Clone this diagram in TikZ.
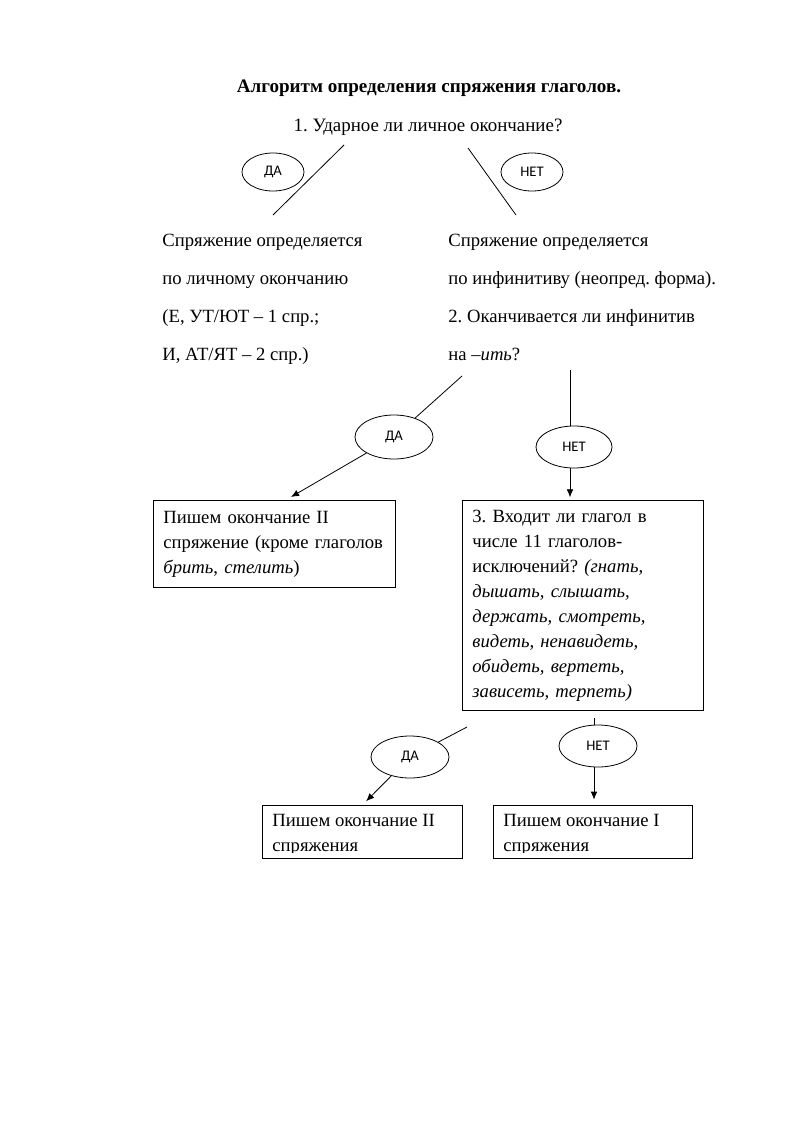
\documentclass[tikz,border=0pt]{standalone}
\usepackage{fontspec}
\setmainfont{Liberation Serif}
\newfontfamily\ovalfont{Carlito}
\usetikzlibrary{shapes.geometric, positioning, arrows.meta}
\frenchspacing

\tikzset{
  answer/.style={draw, ellipse, inner sep=0pt, font=\ovalfont\fontsize{11}{12}\selectfont},
  textblock/.style={anchor=north west, align=left, inner sep=0pt, font=\fontsize{14}{28.5}\selectfont},
  box/.style={draw, anchor=north west, align=left, inner xsep=7.5pt, font=\fontsize{14}{18.75}\selectfont},
  arrow/.style={-{Latex[length=6pt, width=5pt]}},
}

\begin{document}
\begin{tikzpicture}[x=0.75pt, y=-0.75pt, line width=0.6pt]
  \useasboundingbox (0,0) rectangle (800,1131);

  \node[font=\bfseries\fontsize{14.3}{16}\selectfont, anchor=base, inner sep=0pt] (title) at (429,93) {Алгоритм определения спряжения глаголов.};
  \node[font=\fontsize{14.2}{16}\selectfont, anchor=base, inner sep=0pt] (q1) at (428,132) {1. Ударное ли личное окончание?};

  % first question
  \node[answer, minimum width=46.5pt, minimum height=28.5pt] (yes1) at (273,172) {ДА};
  \node[answer, minimum width=46.5pt, minimum height=28.5pt] (no1) at (532,172) {НЕТ};
  \coordinate (yes1a) at (344,145);
  \coordinate (yes1b) at (273,215);
  \coordinate (no1a) at (468,148);
  \coordinate (no1b) at (516,215);
  \draw (yes1a) -- (yes1b);
  \draw (no1a) -- (no1b);

  \node[textblock] (byend) at (162,234) {Спряжение определяется\\по личному окончанию\\(Е, УТ/ЮТ -- 1 спр.;\\И, АТ/ЯТ -- 2 спр.)};
  \node[textblock] (byinf) at (448,234) {Спряжение определяется\\по инфинитиву (неопред. форма).\\2. Оканчивается ли инфинитив\\на \textit{–ить}?};

  % boxes
  \node[box, text width=166.5pt, minimum height=65.25pt] (secondA) at (153,500) {Пишем окончание II\\спряжение (кроме глаголов\\\textit{брить}, \textit{стелить})};
  \node[box, text width=165.75pt, minimum height=157.5pt] (except) at (462,500) {3. Входит ли глагол в\\числе 11 глаголов-\\исключений? \textit{(гнать,}\\\textit{дышать, слышать,}\\\textit{держать, смотреть,}\\\textit{видеть, ненавидеть,}\\\textit{обидеть, вертеть,}\\\textit{зависеть, терпеть)}};
  \node[draw, anchor=north west, minimum width=150pt, minimum height=39.75pt] (endII) at (262,805) {};
  \node[draw, anchor=north west, minimum width=149.25pt, minimum height=39.75pt] (endI) at (493,805) {};
  \begin{scope}
    \clip (262,805) rectangle (692,852);
    \node[box, draw=none, inner sep=0pt] (endIItext) at (272,814) {Пишем окончание II\\спряжения};
    \node[box, draw=none, inner sep=0pt] (endItext) at (503,814) {Пишем окончание I\\спряжения};
  \end{scope}

  % second question
  \coordinate (yes2a) at (462,376);
  \node[answer, minimum width=58.5pt, minimum height=33pt] (yes2) at (394,437) {ДА};
  \coordinate (yes2b) at (291,497);
  \draw (yes2a) -- (yes2);
  \draw[arrow] (yes2) -- (yes2b);

  \coordinate (no2a) at (570,370);
  \node[answer, minimum width=57pt, minimum height=31.5pt] (no2) at (574,447) {НЕТ};
  \draw (no2a) -- (no2a |- no2.north);
  \draw[arrow] (no2a |- no2.south) -- ([yshift=2pt]no2a |- except.north);

  % third question
  \coordinate (yes3a) at (467,727);
  \node[answer, minimum width=58.5pt, minimum height=31.5pt] (yes3) at (410,757) {ДА};
  \draw (yes3a) -- (yes3);
  \draw[arrow, shorten >=4pt] (yes3) -- (endII.north);

  \coordinate (no3a) at (594,718);
  \node[answer, minimum width=58.5pt, minimum height=31.5pt] (no3) at (598,746) {НЕТ};
  \draw (no3a) -- (no3a |- no3.north);
  \draw[arrow] (no3a |- no3.south) -- ([yshift=4pt]no3a |- endI.north);
\end{tikzpicture}
\end{document}
